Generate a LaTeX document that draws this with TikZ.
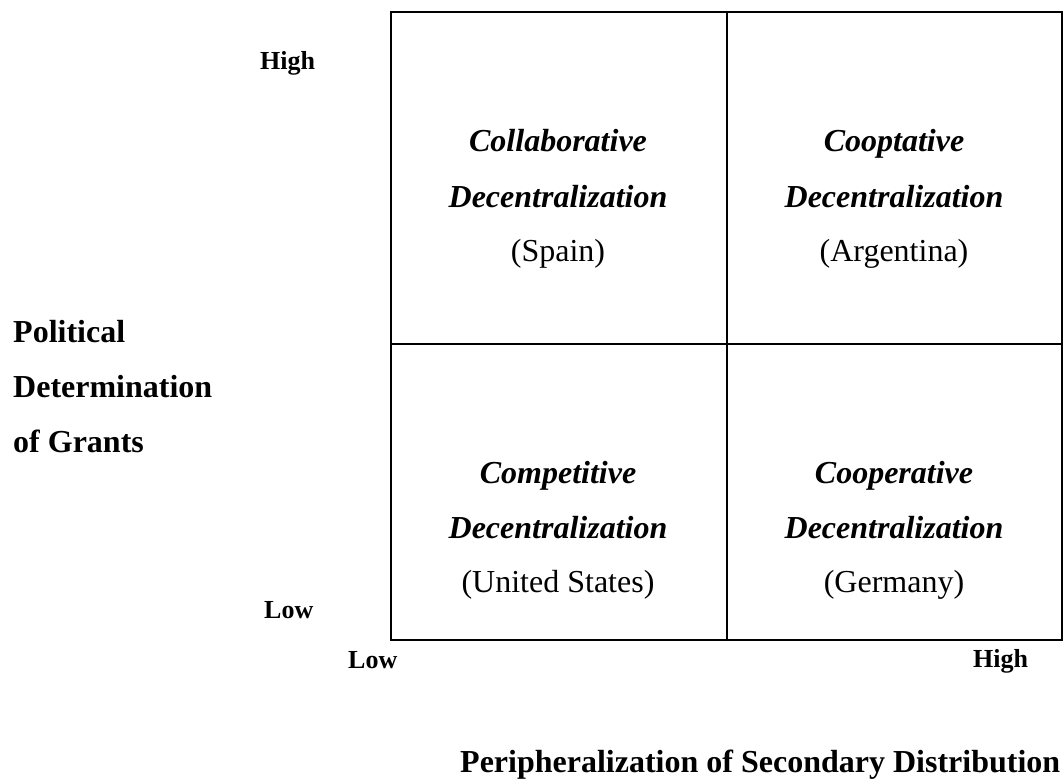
\documentclass[tikz,border=0pt]{standalone}
\usepackage{fontspec}
\setmainfont{Liberation Serif}
\begin{document}
\begin{tikzpicture}[x=1pt,y=-1pt,
  gridline/.style={line width=2.5pt, line cap=rect},
  celltitle/.style={font=\bfseries\itshape\fontsize{32}{38}\selectfont, anchor=base, inner sep=0pt},
  cellcountry/.style={font=\fontsize{32}{38}\selectfont, anchor=base, inner sep=0pt},
  sidelabel/.style={font=\bfseries\fontsize{32}{38}\selectfont, anchor=base west, inner sep=0pt},
  ticklabel/.style={font=\bfseries\fontsize{26}{30}\selectfont, anchor=base west, inner sep=0pt}]
\useasboundingbox (0,0) rectangle (1064,778);

% frame of the 2x2 matrix
\coordinate (tl) at (391,12);
\coordinate (br) at (1062,640);
\coordinate (tm) at (727,12);
\coordinate (bm) at (727,640);
\coordinate (ml) at (391,344);
\coordinate (mr) at (1062,344);
\draw[gridline] (tl) rectangle (br);
\draw[gridline] (tm) -- (bm);
\draw[gridline] (ml) -- (mr);

% upper left cell
\node[celltitle]   (ulA) at (558,152) {Collaborative};
\node[celltitle]   (ulB) at (558,207) {Decentralization};
\node[cellcountry] (ulC) at (558,261) {(Spain)};
% upper right cell
\node[celltitle]   (urA) at (894,152) {Cooptative};
\node[celltitle]   (urB) at (894,207) {Decentralization};
\node[cellcountry] (urC) at (894,261) {(Argentina)};
% lower left cell
\node[celltitle]   (llA) at (558,483) {Competitive};
\node[celltitle]   (llB) at (558,538) {Decentralization};
\node[cellcountry] (llC) at (558,592) {(United States)};
% lower right cell
\node[celltitle]   (lrA) at (894,483) {Cooperative};
\node[celltitle]   (lrB) at (894,538) {Decentralization};
\node[cellcountry] (lrC) at (894,592) {(Germany)};

% vertical axis
\node[sidelabel] (yA) at (13,342) {Political};
\node[sidelabel] (yB) at (13,397) {Determination};
\node[sidelabel] (yC) at (13,452) {of Grants};
\node[ticklabel] (yhigh) at (260,70) {High};
\node[ticklabel] (ylow) at (264,618) {Low};

% horizontal axis
\node[ticklabel] (xlow) at (348,668) {Low};
\node[ticklabel] (xhigh) at (973,667) {High};
\node[sidelabel] (xtitle) at (460,772) {Peripheralization of Secondary Distribution};
\end{tikzpicture}
\end{document}
